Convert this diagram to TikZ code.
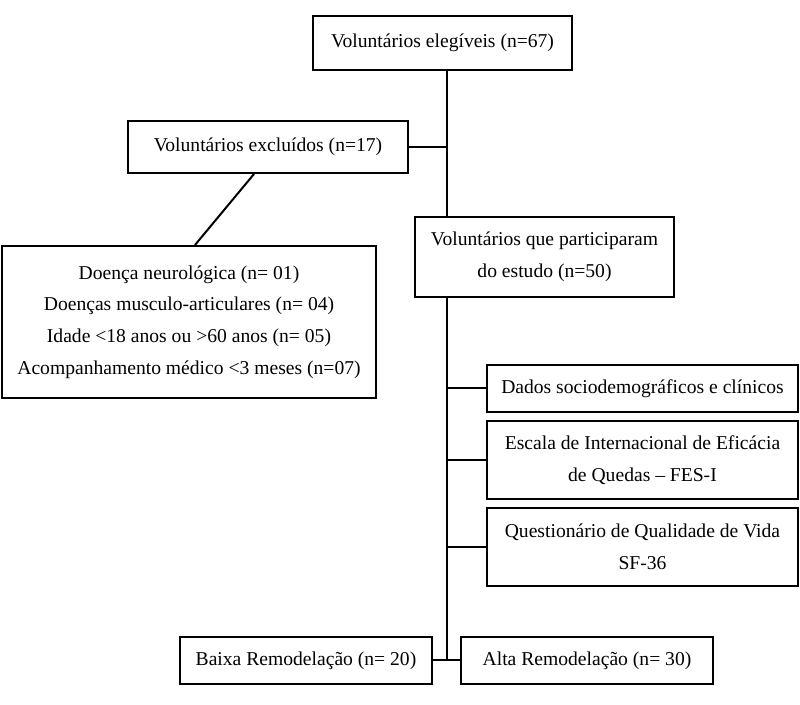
\documentclass[tikz,border=0pt]{standalone}
\usepackage{fontspec}
\setmainfont{Liberation Serif}

\begin{document}
\begin{tikzpicture}[x = 0.5pt, y = -0.5pt,
		caixa/.style = {draw, line width = 1pt, inner sep = 0pt, align = center, font = \fontsize{9.8}{15.8}\selectfont},
		linha/.style = {line width = 1pt}]
			\useasboundingbox (0, 0) rectangle (800, 705);
			\coordinate (spine) at (447, 0);
			\node[caixa, minimum width = 129.5pt, minimum height = 27pt] (eleg) at (442.5, 43) {Voluntários elegíveis (n=67)};
			\node[caixa, minimum width = 140pt, minimum height = 26pt] (excl) at (268, 147) {Voluntários excluídos (n=17)};
			\node[caixa, minimum width = 187pt, minimum height = 76pt] (motivos) at (189, 322) {Doença neurológica (n= 01)\\ Doenças musculo-articulares (n= 04)\\ Idade <18 anos ou >60 anos (n= 05)\\ Acompanhamento médico <3 meses (n=07)};
			\node[caixa, minimum width = 129.5pt, minimum height = 40pt] (part) at (544.5, 257) {Voluntários que participaram\\ do estudo (n=50)};
			\node[caixa, minimum width = 155.5pt, minimum height = 23.5pt] (dados) at (642.5, 388.5) {Dados sociodemográficos e clínicos};
			\node[caixa, minimum width = 155.5pt, minimum height = 39pt] (fes) at (642.5, 460) {Escala de Internacional de Eficácia\\ de Quedas -- FES-I};
			\node[caixa, minimum width = 155.5pt, minimum height = 39pt] (sf) at (642.5, 547) {Questionário de Qualidade de Vida\\ SF-36};
			\node[caixa, minimum width = 126pt, minimum height = 23.5pt] (baixa) at (306, 660.5) {Baixa Remodelação (n= 20)};
			\node[caixa, minimum width = 126pt, minimum height = 23.5pt] (alta) at (587, 660.5) {Alta Remodelação (n= 30)};
			\draw[linha] (eleg.south -| spine) -- (part.north -| spine);
			\draw[linha] (excl.east) -- (excl.east -| spine);
			\draw[linha] (part.south -| spine) -- (baixa.east -| spine);
			\foreach \n in {dados, fes, sf}
				\draw[linha] (\n.west -| spine) -- (\n.west);
			\draw[linha] (baixa.east) -- (alta.west);
			\draw[linha] (excl.south -| 254, 0) -- (motivos.north -| 195, 0);
		\end{tikzpicture}
\end{document}
